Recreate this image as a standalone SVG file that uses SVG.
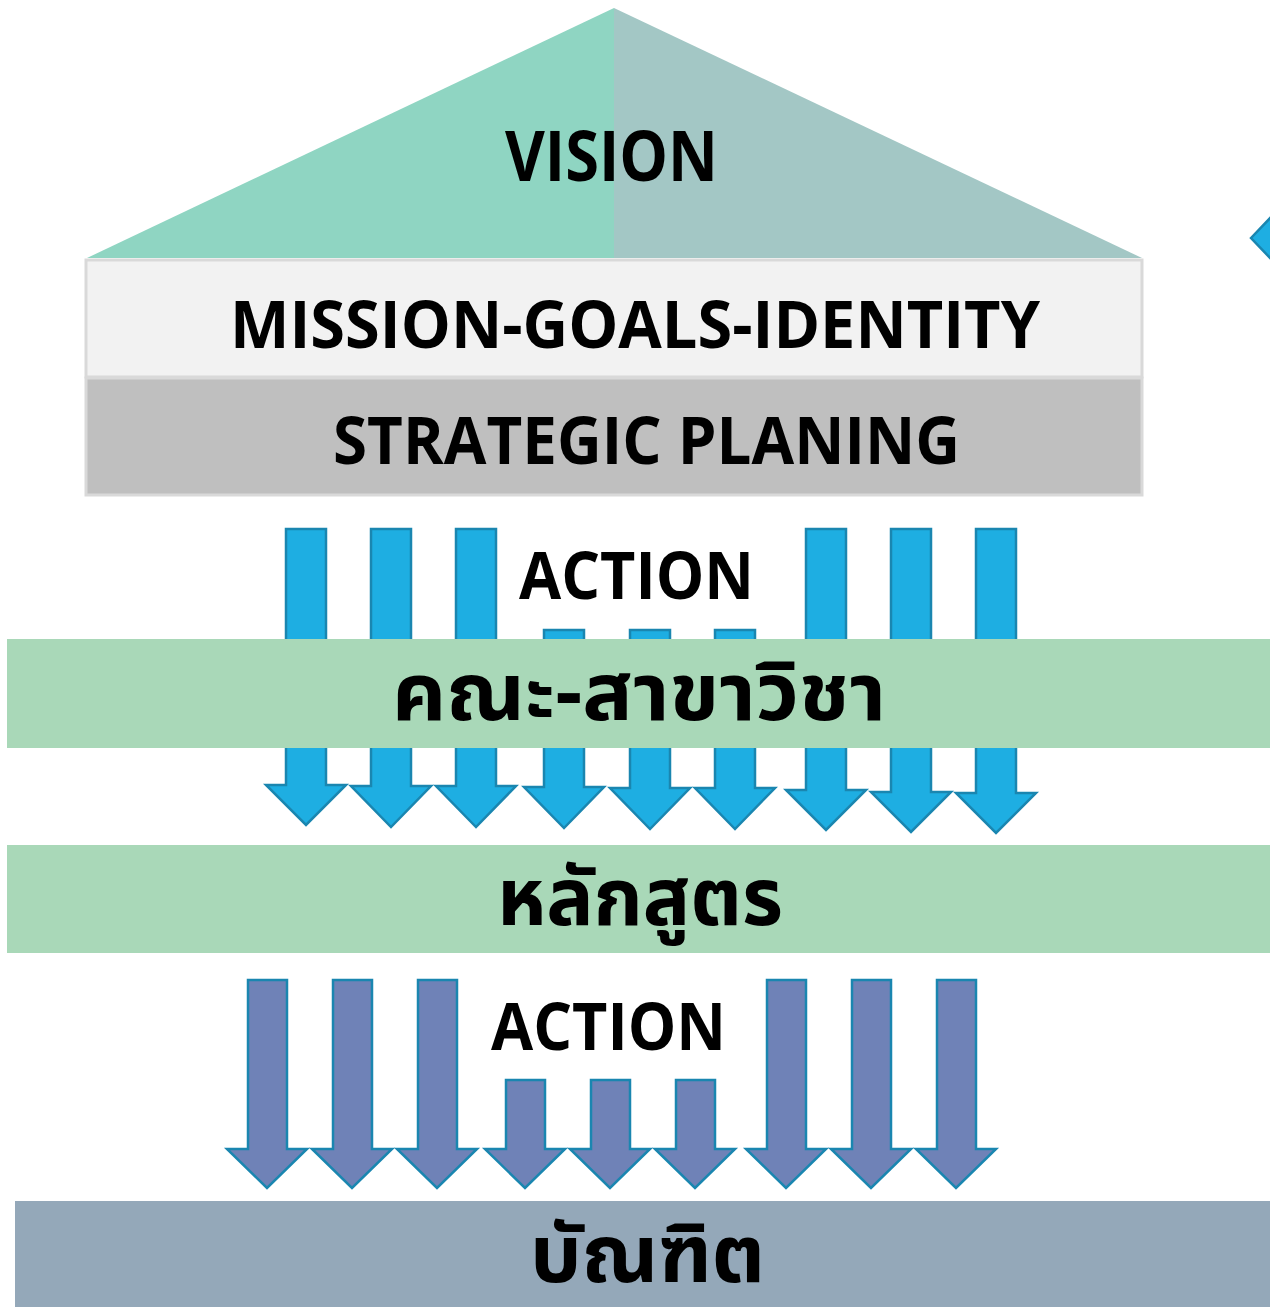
<svg xmlns="http://www.w3.org/2000/svg" width="1270" height="1307" viewBox="0 0 1270 1307">
<defs>
<style>
.lbl{font-family:"Open Sans","Noto Sans","Liberation Sans",sans-serif;font-weight:bold;fill:#000}
.th{font-family:"Noto Sans Thai","Noto Sans","Noto Sans CJK SC","Liberation Sans",sans-serif;font-weight:bold;fill:#000}
.ab{fill:#1eaee2;stroke:#1a86b0;stroke-width:2.5;stroke-linejoin:miter}
.ap{fill:#6f82b7;stroke:#1a86b0;stroke-width:2.5;stroke-linejoin:miter}
.band{fill:#a9d8b8}
</style>
</defs>
<rect width="1270" height="1307" fill="#ffffff"/>

<g id="side-arrow">
<polygon class="ab" points="1251,238 1272,216 1272,260"/>
</g>

<g id="vision">
<polygon points="614,8 87,258 614,258" fill="#8fd5c2"/>
<polygon points="614,8 1142,258 614,258" fill="#a3c7c5"/>
<text class="lbl" x="505" y="181" font-size="70" textLength="213" lengthAdjust="spacingAndGlyphs">VISION</text>
</g>

<g id="mission">
<rect x="86" y="260" width="1056" height="117" fill="#f2f2f2" stroke="#d9d9d9" stroke-width="3"/>
<text class="lbl" x="230" y="348" font-size="67" textLength="810" lengthAdjust="spacingAndGlyphs">MISSION-GOALS-IDENTITY</text>
</g>

<g id="strategic">
<rect x="86" y="378" width="1056" height="117" fill="#bfbfbf" stroke="#d9d9d9" stroke-width="3"/>
<text class="lbl" x="333" y="464" font-size="67" textLength="627" lengthAdjust="spacingAndGlyphs">STRATEGIC PLANING</text>
</g>

<g id="connectors">
<g id="action-arrows-1">
<polygon class="ab" points="286,529 326,529 326,785 346,785 306,825 266,785 286,785"/>
<polygon class="ab" points="371,529 411,529 411,786 431,786 391,827 351,786 371,786"/>
<polygon class="ab" points="456,529 496,529 496,786 516,786 476,827 436,786 456,786"/>
<polygon class="ab" points="544,630 584,630 584,787 604,787 564,828 524,787 544,787"/>
<polygon class="ab" points="630,630 670,630 670,788 690,788 650,829 610,788 630,788"/>
<polygon class="ab" points="715,630 755,630 755,788 775,788 735,829 695,788 715,788"/>
<polygon class="ab" points="806,529 846,529 846,790 866,790 826,830 786,790 806,790"/>
<polygon class="ab" points="891,529 931,529 931,792 951,792 911,832 871,792 891,792"/>
<polygon class="ab" points="976,529 1016,529 1016,793 1036,793 996,833 956,793 976,793"/>
</g>
<g id="action-arrows-2">
<polygon class="ap" points="248,980 287,980 287,1149 307,1149 267,1188 227,1149 248,1149"/>
<polygon class="ap" points="333,980 372,980 372,1149 392,1149 352,1188 312,1149 333,1149"/>
<polygon class="ap" points="418,980 457,980 457,1149 477,1149 437,1188 397,1149 418,1149"/>
<polygon class="ap" points="506,1080 545,1080 545,1149 565,1149 525,1188 485,1149 506,1149"/>
<polygon class="ap" points="591,1080 630,1080 630,1149 650,1149 610,1188 570,1149 591,1149"/>
<polygon class="ap" points="676,1080 715,1080 715,1149 735,1149 695,1188 655,1149 676,1149"/>
<polygon class="ap" points="767,980 806,980 806,1149 826,1149 786,1188 746,1149 767,1149"/>
<polygon class="ap" points="852,980 891,980 891,1149 911,1149 871,1188 831,1149 852,1149"/>
<polygon class="ap" points="937,980 976,980 976,1149 996,1149 956,1188 916,1149 937,1149"/>
</g>
</g>

<g id="action-1">
<text class="lbl" x="519" y="599" font-size="67" textLength="235" lengthAdjust="spacingAndGlyphs">ACTION</text>
</g>

<g id="faculty">
<rect class="band" x="7" y="639" width="1263" height="109"/>
<text class="th" x="392" y="720" font-size="80" textLength="494" lengthAdjust="spacingAndGlyphs">คณะ-สาขาวิชา</text>
</g>

<g id="curriculum">
<rect class="band" x="7" y="845" width="1263" height="108"/>
<text class="th" x="497" y="925" font-size="80" textLength="286" lengthAdjust="spacingAndGlyphs">หลักสูตร</text>
</g>

<g id="action-2">
<text class="lbl" x="491" y="1050" font-size="67" textLength="235" lengthAdjust="spacingAndGlyphs">ACTION</text>
</g>

<g id="graduate">
<rect x="15" y="1201" width="1255" height="106" fill="#94a8b9"/>
<text class="th" x="530" y="1282" font-size="80" textLength="235" lengthAdjust="spacingAndGlyphs">บัณฑิต</text>
</g>
</svg>
